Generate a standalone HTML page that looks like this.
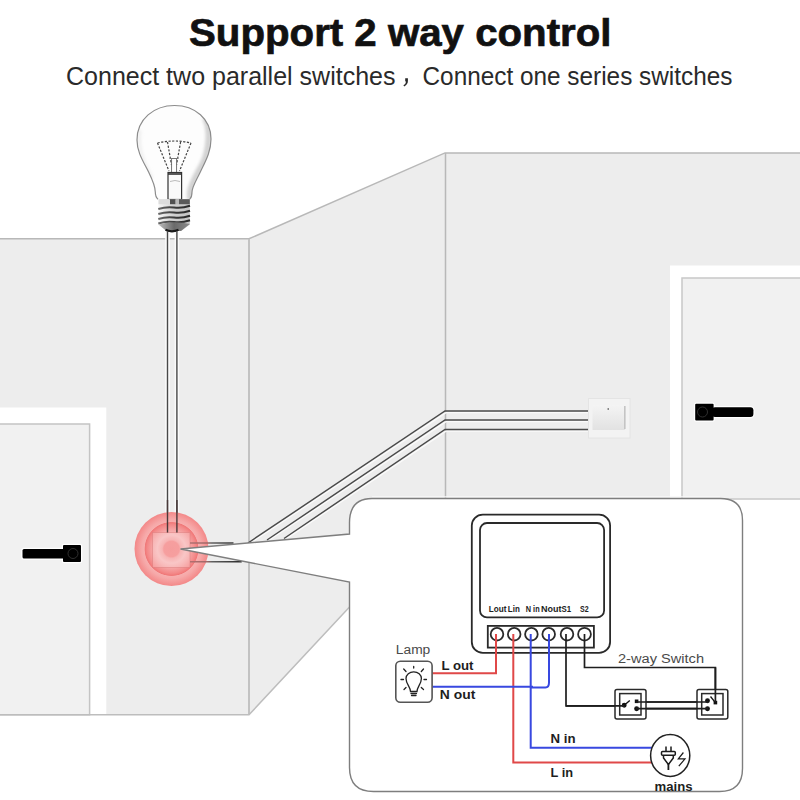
<!DOCTYPE html>
<html><head><meta charset="utf-8">
<style>
html,body{margin:0;padding:0;background:#fff;width:800px;height:800px;overflow:hidden}
svg{display:block;position:absolute;left:0;top:0}
text{font-family:"Liberation Sans",sans-serif}
</style></head>
<body>
<svg width="800" height="800" viewBox="0 0 800 800">
<defs>
<radialGradient id="tgt" cx="171.5" cy="549" r="37" gradientUnits="userSpaceOnUse">
<stop offset="0" stop-color="#f28282"/>
<stop offset="0.21" stop-color="#f38686"/>
<stop offset="0.25" stop-color="#f5a2a2"/>
<stop offset="0.38" stop-color="#f7baba"/>
<stop offset="0.50" stop-color="#f6a8a8"/>
<stop offset="0.66" stop-color="#f38888"/>
<stop offset="0.715" stop-color="#f07878"/>
<stop offset="0.735" stop-color="#f7aeae"/>
<stop offset="0.80" stop-color="#f6a9a9"/>
<stop offset="0.95" stop-color="#f49090"/>
<stop offset="1" stop-color="#f38888"/>
</radialGradient>
<linearGradient id="glass" x1="0" y1="0" x2="1" y2="0">
<stop offset="0" stop-color="#f4f4f4"/>
<stop offset="0.5" stop-color="#ffffff"/>
<stop offset="1" stop-color="#e6e6e6"/>
</linearGradient>
<linearGradient id="thr" x1="0" y1="0" x2="1" y2="0">
<stop offset="0" stop-color="#6a6a6a"/>
<stop offset="0.5" stop-color="#3a3a3a"/>
<stop offset="1" stop-color="#2a2a2a"/>
</linearGradient>
<linearGradient id="cone" x1="0" y1="0" x2="1" y2="0">
<stop offset="0" stop-color="#bdbdbd"/>
<stop offset="0.5" stop-color="#6a6a6a"/>
<stop offset="1" stop-color="#8a8a8a"/>
</linearGradient>
<filter id="bl" x="-20%" y="-20%" width="140%" height="140%"><feGaussianBlur stdDeviation="1.5"/></filter>
<linearGradient id="basef" x1="0" y1="0" x2="1" y2="0">
<stop offset="0" stop-color="#f6f6f6"/>
<stop offset="0.5" stop-color="#d0d0d0"/>
<stop offset="1" stop-color="#c4c4c4"/>
</linearGradient>
<linearGradient id="rock" x1="0" y1="0" x2="0" y2="1">
<stop offset="0" stop-color="#f4f4f4"/>
<stop offset="1" stop-color="#e2e2e2"/>
</linearGradient>
<linearGradient id="hw" x1="190" y1="0" x2="242" y2="0" gradientUnits="userSpaceOnUse">
<stop offset="0" stop-color="#b07070"/>
<stop offset="0.33" stop-color="#a06868"/>
<stop offset="0.42" stop-color="#606060"/>
<stop offset="1" stop-color="#2a2a2a"/>
</linearGradient>
</defs>

<!-- walls -->
<rect x="0" y="238.8" width="249" height="476" fill="#ededed"/>
<polygon points="249,238.8 445,152.9 445,503 249,714.8" fill="#ededed"/>
<rect x="445" y="152.9" width="355" height="346.1" fill="#ededed"/>
<path d="M0,238.8 H249 L445,152.9 H800" fill="none" stroke="#b8b8b8" stroke-width="1.5"/>
<line x1="249" y1="239" x2="249" y2="714.8" stroke="#c2c2c2" stroke-width="2"/>
<line x1="445.5" y1="153" x2="445.5" y2="499" stroke="#b8b8b8" stroke-width="1.5"/>

<!-- left door -->
<rect x="0" y="407.5" width="106.3" height="307.3" fill="#ffffff"/>
<rect x="-2" y="424" width="91.6" height="290.8" fill="#f1f1f1" stroke="#c4c4c4" stroke-width="1.5"/>
<path d="M0,714.8 H249 L349.5,607" fill="none" stroke="#bdbdbd" stroke-width="1.5"/>
<!-- left handle -->
<g fill="#fff" stroke="#fff" stroke-width="2.6" stroke-linejoin="round"><rect x="22.5" y="549" width="42" height="9.5" rx="1.5"/><rect x="63" y="545" width="18" height="17" rx="1"/></g>
<g fill="#000"><rect x="22.5" y="549" width="42" height="9.5" rx="1.5"/><rect x="63" y="545" width="18" height="17" rx="1"/></g>
<circle cx="73" cy="553.5" r="5" fill="none" stroke="#3a3a3a" stroke-width="0.8"/>

<!-- right door -->
<rect x="670" y="265.5" width="130" height="233.5" fill="#ffffff"/>
<rect x="682" y="278" width="120" height="221" fill="#f1f1f1" stroke="#c8c8c8" stroke-width="1.5"/>
<g fill="#fff" stroke="#fff" stroke-width="2.6" stroke-linejoin="round"><rect x="712" y="407.2" width="41.4" height="9.7" rx="3"/><rect x="695.2" y="403.7" width="18.4" height="16.7" rx="1"/></g>
<g fill="#000"><rect x="712" y="407.2" width="41.4" height="9.7" rx="3"/><rect x="695.2" y="403.7" width="18.4" height="16.7" rx="1"/></g>
<circle cx="702.5" cy="412" r="5" fill="none" stroke="#3a3a3a" stroke-width="0.8"/>


<!-- bulb -->
<g id="bulb">
<path id="gl" d="M158,199.2 C156,197.5 155.3,196 155.3,192 C155.3,187 153,181 148.6,172 C143,161 137,152 137,140 C137,119 154,105.5 174.5,105.5 C195,105.5 211,119 211,139 C211,152 205,162 200.3,172 C196,181 192,187 192,192 C192,196 191.5,197.5 189.8,199.2 Z" fill="#fdfdfd"/>
<clipPath id="glc"><path d="M158,199.2 C156,197.5 155.3,196 155.3,192 C155.3,187 153,181 148.6,172 C143,161 137,152 137,140 C137,119 154,105.5 174.5,105.5 C195,105.5 211,119 211,139 C211,152 205,162 200.3,172 C196,181 192,187 192,192 C192,196 191.5,197.5 189.8,199.2 Z"/></clipPath>
<g clip-path="url(#glc)" filter="url(#bl)">
<path d="M205,118 C211,130 209,150 203,163 C198,173 191,183 190,192 V200" fill="none" stroke="#d2d2d2" stroke-width="6"/>
<path d="M140,130 C137,150 145,165 152,178" fill="none" stroke="#eeeeee" stroke-width="3"/>
</g>
<path d="M158,199.2 C156,197.5 155.3,196 155.3,192 C155.3,187 153,181 148.6,172 C143,161 137,152 137,140 C137,119 154,105.5 174.5,105.5 C195,105.5 211,119 211,139 C211,152 205,162 200.3,172 C196,181 192,187 192,192 C192,196 191.5,197.5 189.8,199.2" fill="none" stroke="#8c8c8c" stroke-width="1.2"/>
<path d="M157.5,143 L169,171 M191,143 L179.5,171 M167.5,142 L171.5,165 M180.6,142 L176.5,165 M157.5,143 Q174,139 191,143" fill="none" stroke="#444" stroke-width="1.2" stroke-dasharray="2.2,1.5"/>
<rect x="171.6" y="158.5" width="5" height="14" fill="#fff" stroke="#666" stroke-width="0.9"/><path d="M169.5,158.5 H178.5" stroke="#777" stroke-width="0.9"/>
<rect x="168" y="172.5" width="13.6" height="27" fill="#fafafa" stroke="#333" stroke-width="1.2"/>
<line x1="168" y1="174" x2="181.6" y2="174" stroke="#333" stroke-width="1.6"/><path d="M170,181.5 Q175,179.5 180,181.5" stroke="#aaa" stroke-width="0.8" fill="none"/>
<path d="M158.5,199.2 H189.8 V224.5 L181,231 H166.5 L158.5,224.5 Z" fill="url(#basef)"/>
<rect x="158.5" y="199.2" width="11" height="5" fill="#dcdcdc"/>
<rect x="170" y="199.2" width="5.6" height="5" fill="#505050"/>
<rect x="175.6" y="199.2" width="3.4" height="5" fill="#b8b8b8"/>
<rect x="179" y="199.2" width="10.8" height="5" fill="#5a5a5a"/>
<path d="M158.3,209 Q166,206.5 174,207.5 T190,205.8 M158.3,214 Q166,211.5 174,212.5 T190,210.8 M158.3,219 Q166,216.5 174,217.5 T190,215.8 M158.3,223.5 Q166,221 174,222 T190,220.3" stroke="url(#thr)" stroke-width="2" fill="none"/>
<path d="M158.5,224.5 Q174,220.5 189.8,224 L181,231 H166.5 Z" fill="url(#cone)"/>
<path d="M165.5,229.8 Q172,232.8 178.5,229.8" stroke="#1a1a1a" stroke-width="2.2" fill="none"/>
</g>
<!-- ceiling wires -->
<path d="M167.5,232 V533 M176.9,232 V533" stroke="#fafafa" stroke-width="4.6"/>
<path d="M167.5,231 V533 M176.9,231 V533" stroke="#484848" stroke-width="1.4"/>

<!-- wall switch wires -->
<g fill="none" stroke-linecap="butt">
<path d="M588,412.6 H446 L249,544 M588,421.6 H446 L268,541 M588,431.1 H446 L285,539.6" stroke="#fafafa" stroke-width="1.4"/>
<path d="M588,411 H445 L248,543 M588,420 H445 L267,540 M588,429.5 H445 L284,538.5" stroke="#4a4a4a" stroke-width="1.45"/>
</g>
<!-- wall switch -->
<rect x="588.5" y="398.5" width="41.5" height="39.5" fill="#f3f3f3" stroke="#e4e4e4" stroke-width="1"/>
<rect x="592.5" y="405" width="32.5" height="25" fill="url(#rock)"/>
<rect x="624" y="406" width="1.6" height="23" fill="#c4c4c4"/>
<rect x="607.5" y="408" width="1.5" height="2" fill="#888"/>

<!-- red target -->
<circle cx="171.5" cy="549" r="37" fill="url(#tgt)"/>
<path d="M167.5,500 V533 M176.9,500 V533" stroke="#4a3a3a" stroke-width="1.4"/>
<rect x="152.5" y="532.5" width="37.5" height="35" fill="rgba(255,235,235,0.25)" stroke="rgba(215,120,120,0.45)" stroke-width="1"/>
<path d="M190,543 H233.5 M190,561.8 H241.7" stroke="url(#hw)" stroke-width="1.5" fill="none"/>

<!-- callout -->
<path d="M372,496.8 H720" stroke="#f8f8f8" stroke-width="1.2"/>
<path d="M180.5,549 L349.5,534 V523 Q349.5,498.5 372,498.5 H720.5 Q742.5,498.5 742.5,520.5 V768.5 Q742.5,791.5 719.5,791.5 H373.5 Q349.5,791.5 349.5,767.5 V582 Z" fill="#ffffff" stroke="#7e7e7e" stroke-width="1.4"/>

<!-- module -->
<g fill="none" stroke="#2a2a2a" stroke-width="1.8">
<rect x="471.8" y="514.6" width="138.3" height="138.3" rx="11"/>
<rect x="480" y="523" width="124.1" height="94.4" rx="7"/>
<rect x="487.8" y="625.9" width="106.1" height="21.7"/>
<circle cx="497" cy="634.2" r="6.3" stroke-width="1.8"/>
<circle cx="514.2" cy="634.2" r="6.3" stroke-width="1.8"/>
<circle cx="531.4" cy="634.2" r="6.3" stroke-width="1.8"/>
<circle cx="548.7" cy="634.2" r="6.3" stroke-width="1.8"/>
<circle cx="567" cy="634.2" r="6.3" stroke-width="1.8"/>
<circle cx="584.5" cy="634.2" r="6.4" stroke-width="1.8"/>
</g>
<g font-weight="bold" font-size="8.4" fill="#222">
<text x="488.8" y="612" textLength="17.6" lengthAdjust="spacingAndGlyphs">Lout</text>
<text x="507.8" y="612" textLength="12" lengthAdjust="spacingAndGlyphs">Lin</text>
<text x="525.8" y="612" textLength="13.8" lengthAdjust="spacingAndGlyphs">N in</text>
<text x="541" y="612" textLength="20.5" lengthAdjust="spacingAndGlyphs">Nout</text>
<text x="561.6" y="612" textLength="9.6" lengthAdjust="spacingAndGlyphs">S1</text>
<text x="580" y="612" textLength="8.6" lengthAdjust="spacingAndGlyphs">S2</text>
</g>

<!-- diagram wires -->
<g fill="none" stroke-width="2">
<path d="M496,634 V673.3 H432.5" stroke="#e04848"/>
<path d="M513.3,634 V762.5 H652" stroke="#e04848"/>
<path d="M530.7,634 V747.8 H652" stroke="#3848e0"/>
<path d="M549,634 V682.5 Q549,687.4 545.5,687.4 H532 V686.7 H432.5" stroke="#3848e0"/>
<path d="M566,634 V705.8 H624" stroke="#1e1e1e" stroke-width="1.7"/>
<path d="M584.5,634 V667.5 H715.4 V701" stroke="#1e1e1e" stroke-width="1.7"/>
<path d="M636,702 H708 M636,708.7 H708" stroke="#1e1e1e" stroke-width="1.7"/>
</g>

<!-- lamp -->
<text x="395.8" y="653.5" font-size="12" fill="#4a4a4a" textLength="34.5" lengthAdjust="spacingAndGlyphs">Lamp</text>
<rect x="395.8" y="661.3" width="36.3" height="41" rx="4.5" fill="#fff" stroke="#555" stroke-width="1.6"/>
<g fill="none" stroke="#222" stroke-width="1.3" stroke-linecap="round">
<path d="M410.5,691.5 C410.5,687 406,684 406,678.5 C406,674.5 409.5,671.8 413.7,671.8 C418,671.8 421.4,674.5 421.4,678.5 C421.4,684 417,687 417,691.5 Z"/>
<path d="M411,693.5 H416.5 M411.5,695.5 H416"/>
<path d="M413.7,666.5 V668 M401,679.5 H403.5 M424,679.5 H426.5 M403.7,669 L406,671.5 M423.5,669 L421.3,671.5 M404,689.5 L406,687.5 M423.5,689.5 L421.3,687.5"/>
</g>
<g font-weight="bold" font-size="12" fill="#1e1e1e">
<text x="441.5" y="670" textLength="32" lengthAdjust="spacingAndGlyphs">L out</text>
<text x="439.8" y="698.8" textLength="35.5" lengthAdjust="spacingAndGlyphs">N out</text>
<text x="550.5" y="743" textLength="25" lengthAdjust="spacingAndGlyphs">N in</text>
<text x="550.5" y="776.5" textLength="22.5" lengthAdjust="spacingAndGlyphs">L in</text>
<text x="654.5" y="791" textLength="38" lengthAdjust="spacingAndGlyphs">mains</text>
</g>
<text x="618" y="663" font-size="12" fill="#4a4a4a" textLength="86" lengthAdjust="spacingAndGlyphs">2-way Switch</text>

<!-- switches -->
<g fill="#fff" stroke="#2a2a2a" stroke-width="1.5">
<rect x="615" y="689.5" width="31" height="29.5" rx="2"/>
<rect x="619.7" y="693.6" width="21.3" height="21.4"/>
<rect x="697" y="689.5" width="30.8" height="29.5" rx="2"/>
<rect x="701.7" y="693.6" width="21.3" height="21.4"/>
</g>
<g fill="#111" stroke="#111" stroke-width="1.3">
<circle cx="624.2" cy="705.3" r="1.8"/>
<line x1="624.2" y1="705.3" x2="629.8" y2="700.4"/>
<rect x="634.8" y="699.5" width="3.6" height="3.6" stroke="none"/>
<circle cx="636.6" cy="708.7" r="1.8"/>
<circle cx="707.5" cy="700.8" r="1.8"/>
<circle cx="707.5" cy="708.7" r="1.8"/>
<line x1="715.4" y1="702.6" x2="710.5" y2="696.5"/>
<rect x="713.6" y="700.8" width="3.6" height="3.6" stroke="none"/>
</g>
<path d="M636,702 H708 M636,708.7 H708" stroke="#1e1e1e" stroke-width="1.7" fill="none"/>
<path d="M566,705.8 H624.2 M715.4,667.5 V702" stroke="#1e1e1e" stroke-width="1.7" fill="none"/>

<!-- mains -->
<ellipse cx="670.2" cy="755.5" rx="19.6" ry="21" fill="#fff" stroke="#222" stroke-width="1.5"/>
<g fill="none" stroke="#1a1a1a" stroke-width="1.5">
<path d="M666,746.5 V751.5 M671,746.5 V751.5"/>
<rect x="661.5" y="751.5" width="13.8" height="3.8" rx="1"/>
<path d="M663.5,755.3 V758 L668.4,764.5 L673.3,758 V755.3"/><path d="M668.4,763 V770" stroke-width="1.8"/>
<path d="M683.4,752.5 L678.3,758.8 H685 L678.8,766.2" stroke-width="1.2"/>
</g>

<!-- title -->
<text x="189" y="46" font-weight="bold" font-size="39.5" fill="#111" stroke="#111" stroke-width="0.7" textLength="422.5" lengthAdjust="spacingAndGlyphs">Support 2 way control</text>
<text x="66" y="84.5" font-size="26.3" fill="#2a2a2a" textLength="329.5" lengthAdjust="spacingAndGlyphs">Connect two parallel switches</text>
<path d="M405.2,78.3 H407.9 V81 Q407.9,84.5 404.3,86.4 L403.4,85.3 Q406,83.6 406.1,81.4 H405.2 Z" fill="#2a2a2a"/>
<text x="422.5" y="84.5" font-size="26.3" fill="#2a2a2a" textLength="310" lengthAdjust="spacingAndGlyphs">Connect one series switches</text>
</svg>
</body></html>
